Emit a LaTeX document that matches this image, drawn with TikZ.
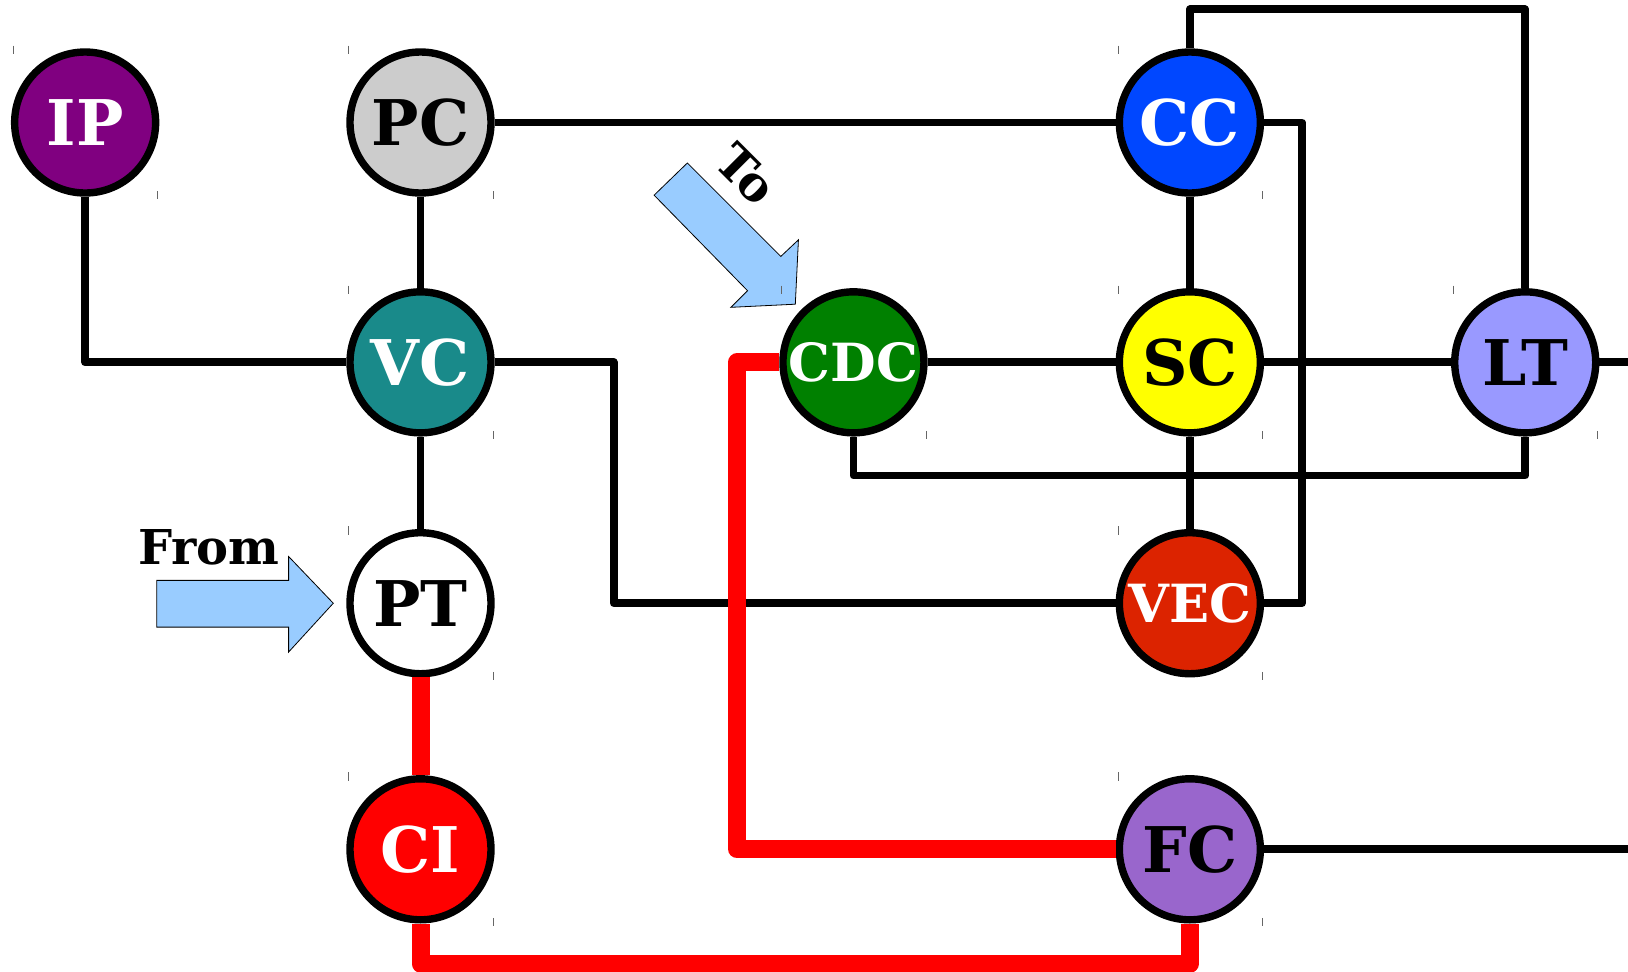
\documentclass[tikz,border=0pt]{standalone}
\usepackage{fontspec}
\setmainfont{DejaVu Serif}
\begin{document}
\begin{tikzpicture}[x=0.51913pt,y=-0.51913pt,
  nd/.style={circle,draw=black,line width=3.7pt,minimum size=70.5pt,inner sep=0pt,
    font=\fontsize{31.5}{31.5}\selectfont\bfseries},
  ndsmall/.style={nd,font=\fontsize{26.3}{26.3}\selectfont\bfseries},
  blk/.style={draw=black,line width=3.9pt,line join=round},
  redl/.style={draw=red,line width=9pt,line join=round},
  bluearrow/.style={fill=arrowblue,draw=black,line width=0.4pt},
  tick/.style={draw=black!60,line width=0.5pt},
  lbl/.style={font=\fontsize{24}{24}\selectfont\bfseries}]
\definecolor{arrowblue}{HTML}{99CCFF}
\definecolor{cIP}{HTML}{800080}
\definecolor{cPC}{HTML}{CCCCCC}
\definecolor{cCC}{HTML}{0047FF}
\definecolor{cVC}{HTML}{198A8A}
\definecolor{cCDC}{HTML}{008000}
\definecolor{cSC}{HTML}{FFFF00}
\definecolor{cLT}{HTML}{9999FF}
\definecolor{cVEC}{HTML}{DC2300}
\definecolor{cCI}{HTML}{FF0000}
\definecolor{cFC}{HTML}{9966CC}
\useasboundingbox (0,0) rectangle (1568,936);

% helper coordinates
\coordinate (topy) at (0,9);
\coordinate (rx) at (1254,0);
\coordinate (mx) at (591,0);
\coordinate (by) at (0,458);
\coordinate (rxl) at (710,0);
\coordinate (bot) at (0,928);
\coordinate (redge1) at (1568,349);
\coordinate (redge2) at (1568,818);

% nodes
\node[nd,fill=cIP,text=white] (ip) at (82,118) {IP};
\node[nd,fill=cPC] (pc) at (405,118) {PC};
\node[nd,fill=cCC,text=white] (cc) at (1146,118) {CC};
\node[nd,fill=cVC,text=white] (vc) at (405,349) {VC};
\node[ndsmall,fill=cCDC,text=white] (cdc) at (822,349) {CDC};
\node[nd,fill=cSC] (sc) at (1146,349) {SC};
\node[nd,fill=cLT] (lt) at (1469,349) {LT};
\node[nd,fill=white] (pt) at (405,581) {PT};
\node[ndsmall,fill=cVEC,text=white] (vec) at (1146,581) {VEC};
\node[nd,fill=cCI,text=white] (ci) at (405,818) {CI};
\node[nd,fill=cFC] (fc) at (1146,818) {FC};

% black connectors
\draw[blk] (ip.south) |- (vc.west);
\draw[blk] (pc.south) -- (vc.north);
\draw[blk] (pc.east) -- (cc.west);
\draw[blk] (cc.north) -- (cc.north |- topy) -| (lt.north);
\draw[blk] (cc.east) -- (cc.east -| rx) |- (vec.east);
\draw[blk] (cc.south) -- (sc.north);
\draw[blk] (vc.south) -- (pt.north);
\draw[blk] (vc.east) -- (vc.east -| mx) |- (vec.west);
\draw[blk] (cdc.east) -- (sc.west);
\draw[blk] (sc.east) -- (lt.west);
\draw[blk] (lt.east) -- (redge1);
\draw[blk] (cdc.south) -- (cdc.south |- by) -| (lt.south);
\draw[blk] (sc.south) -- (vec.north);
\draw[blk] (fc.east) -- (redge2);

% red connectors
\draw[redl] (pt.south) -- (ci.north);
\draw[redl] (cdc.west) -- (cdc.west -| rxl) |- (fc.west);
\draw[redl] (ci.south) -- (ci.south |- bot) -| (fc.south);

% blue arrows
\draw[bluearrow] (151,559) -- (278,559) -- (278,536) -- (321,581) -- (278,628) -- (278,604) -- (151,604) -- cycle;
\draw[bluearrow] (630,188) -- (662,157) -- (752,247) -- (769,231) -- (766,293) -- (704,296) -- (720,280) -- cycle;
\node[lbl] (from) at (201,527) {From};
\node[lbl,rotate=-45] (to) at (719,168) {To};

% small corner ticks
\foreach \cx/\cy in {82/118,405/118,1146/118,405/349,822/349,1146/349,1469/349,405/581,1146/581,405/818,1146/818}{
  \draw[tick] (\cx-69,\cy-74) -- (\cx-69,\cy-66);
  \draw[tick] (\cx+70,\cy+66) -- (\cx+70,\cy+74);
}
\end{tikzpicture}
\end{document}
